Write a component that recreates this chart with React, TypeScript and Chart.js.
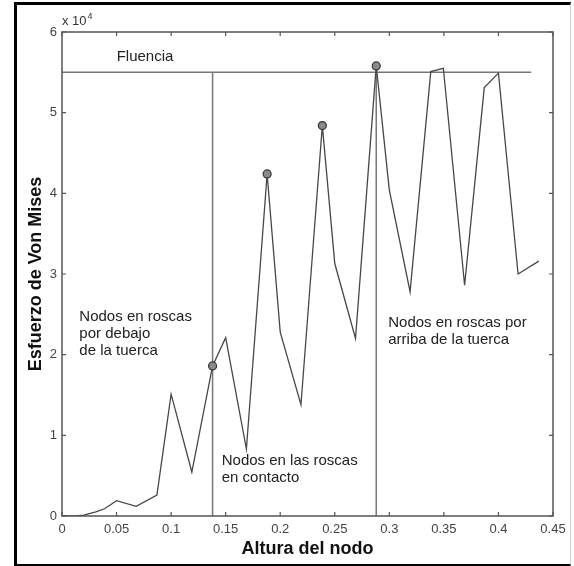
import React, { useEffect, useRef } from "react";
import { Chart, registerables } from "chart.js";

Chart.register(...registerables);

// Node height (x) and Von Mises stress (y)
const alturas = [0, 0.0125, 0.02, 0.031, 0.039, 0.05, 0.068, 0.087, 0.1, 0.119, 0.138, 0.15, 0.169, 0.188, 0.2, 0.219, 0.2386, 0.25, 0.269, 0.288, 0.3, 0.319, 0.338, 0.3495, 0.369, 0.387, 0.4, 0.418, 0.437];
const esfuerzos = [0, 0, 100, 500, 900, 1900, 1200, 2600, 15100, 5450, 18600, 22100, 8300, 42400, 22800, 13800, 48400, 31300, 22000, 55800, 40400, 27800, 55100, 55500, 28600, 53100, 54900, 30000, 31600];

// Highlighted nodes
const marcadosX = [0.138, 0.188, 0.2386, 0.288];
const marcadosY = [18600, 42400, 48400, 55800];

// Yield stress line
const fluenciaValor = 55000;
const fluenciaX = [0, 0.43];

// Separating vertical lines
const separadoresX = [0.138, 0.288];

// Axis ticks
const xTicks = [0, 0.05, 0.1, 0.15, 0.2, 0.25, 0.3, 0.35, 0.4, 0.45];
const yTicks = [0, 10000, 20000, 30000, 40000, 50000, 60000];

// Annotations (text, anchor in data coords)
const notas = [
  { lines: ["Fluencia"], x: 0.0501, y: 56860 },
  { lines: ["Nodos en roscas", "por debajo", "de la tuerca"], x: 0.0159, y: 24670 },
  { lines: ["Nodos en las roscas", "en contacto"], x: 0.1464, y: 6818 },
  { lines: ["Nodos en roscas por", "arriba de la tuerca"], x: 0.299, y: 23924 },
];

const FONT = "'Liberation Sans', Arial, Helvetica, sans-serif";

export default function App() {
  const ref = useRef<HTMLCanvasElement>(null);

  useEffect(() => {
    if (!ref.current) return;

    const boxPlugin = {
      id: "boxPlugin",
      afterDraw(chart: any) {
        const { ctx, chartArea: a, scales } = chart;
        const xs = scales.x;
        const ys = scales.y;
        ctx.save();
        ctx.strokeStyle = "#555";
        ctx.lineWidth = 1.5;
        ctx.strokeRect(a.left, a.top, a.right - a.left, a.bottom - a.top);
        ctx.lineWidth = 1.2;
        const tl = 4;
        ctx.beginPath();
        xTicks.forEach((v) => {
          const px = xs.getPixelForValue(v);
          ctx.moveTo(px, a.bottom);
          ctx.lineTo(px, a.bottom - tl);
          ctx.moveTo(px, a.top);
          ctx.lineTo(px, a.top + tl);
        });
        yTicks.forEach((v) => {
          const py = ys.getPixelForValue(v);
          ctx.moveTo(a.left, py);
          ctx.lineTo(a.left + tl, py);
          ctx.moveTo(a.right, py);
          ctx.lineTo(a.right - tl, py);
        });
        ctx.stroke();

        // exponent label
        ctx.fillStyle = "#333";
        ctx.textBaseline = "alphabetic";
        ctx.textAlign = "left";
        ctx.font = `13px ${FONT}`;
        ctx.fillText("x 10", a.left, a.top - 7);
        const w = ctx.measureText("x 10").width;
        ctx.font = `9px ${FONT}`;
        ctx.fillText("4", a.left + w + 1, a.top - 13);

        // annotations
        ctx.fillStyle = "#222";
        ctx.font = `15px ${FONT}`;
        ctx.textBaseline = "middle";
        notas.forEach((n) => {
          const px = xs.getPixelForValue(n.x);
          const py = ys.getPixelForValue(n.y);
          n.lines.forEach((l, i) => ctx.fillText(l, px, py + i * 17));
        });
        ctx.restore();
      },
    };

    const chart = new Chart(ref.current, {
      type: "scatter",
      data: {
        datasets: [
          {
            data: marcadosX.map((x, i) => ({ x, y: marcadosY[i] })),
            showLine: false,
            pointRadius: 4,
            pointBackgroundColor: "#8a8a8a",
            pointBorderColor: "#333",
            pointBorderWidth: 1.2,
          },
          {
            data: alturas.map((x, i) => ({ x, y: esfuerzos[i] })),
            showLine: true,
            borderColor: "#474747",
            borderWidth: 1.3,
            pointRadius: 0,
            tension: 0,
          },
          {
            data: fluenciaX.map((x) => ({ x, y: fluenciaValor })),
            showLine: true,
            borderColor: "#777",
            borderWidth: 1.5,
            pointRadius: 0,
          },
          ...separadoresX.map((sx) => ({
            data: [
              { x: sx, y: 0 },
              { x: sx, y: fluenciaValor },
            ],
            showLine: true,
            borderColor: "#777",
            borderWidth: 1.5,
            pointRadius: 0,
          })),
        ],
      },
      options: {
        animation: false,
        responsive: false,
        layout: { padding: { left: 18, top: 32, right: 21, bottom: 3 } },
        plugins: { legend: { display: false }, tooltip: { enabled: false } },
        scales: {
          x: {
            type: "linear",
            min: 0,
            max: 0.45,
            afterFit: (s: any) => {
              s.height = 47;
            },
            afterBuildTicks: (s: any) => {
              s.ticks = xTicks.map((v) => ({ value: v }));
            },
            grid: { display: false, drawTicks: false },
            border: { display: false },
            ticks: {
              padding: 6,
              color: "#444",
              font: { family: FONT, size: 13 },
              maxRotation: 0,
              autoSkip: false,
              callback: (v: any) => String(Number(Number(v).toFixed(2))),
            },
            title: {
              display: true,
              text: "Altura del nodo",
              color: "#111",
              font: { family: FONT, size: 18, weight: "bold" },
              padding: { top: 0, bottom: 3 },
            },
          },
          y: {
            type: "linear",
            min: 0,
            max: 60000,
            afterFit: (s: any) => {
              s.width = 44;
            },
            afterBuildTicks: (s: any) => {
              s.ticks = yTicks.map((v) => ({ value: v }));
            },
            grid: { display: false, drawTicks: false },
            border: { display: false },
            ticks: {
              padding: 5,
              color: "#444",
              font: { family: FONT, size: 13 },
              autoSkip: false,
              callback: (v: any) => String(Number(v) / 10000),
            },
            title: {
              display: true,
              text: "Esfuerzo de Von Mises",
              color: "#111",
              font: { family: FONT, size: 18, weight: "bold" },
              padding: { top: 7, bottom: 0 },
            },
          },
        },
      },
      plugins: [boxPlugin],
    });

    return () => chart.destroy();
  }, []);

  return (
    <div style={{ position: "absolute", left: 0, top: 0, width: 574, height: 566, background: "#fff", overflow: "hidden" }}>
      <div
        style={{
          position: "absolute",
          left: 14,
          top: 2,
          width: 571 - 14 - 4,
          height: 566 - 2 - 5,
          borderLeft: "3px solid #000",
          borderTop: "3px solid #000",
          borderBottom: "2px solid #000",
          borderRight: "1px solid #ccc",
        }}
      />
      <canvas ref={ref} width={574} height={566} style={{ position: "absolute", left: 0, top: 0 }} />
    </div>
  );
}
